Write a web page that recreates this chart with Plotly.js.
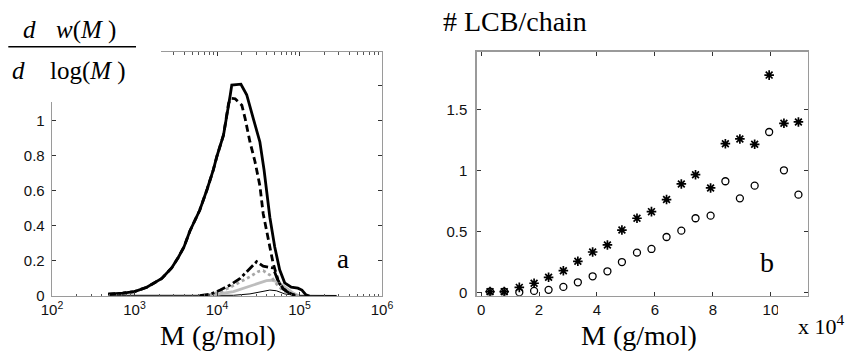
<!DOCTYPE html>
<html>
<head>
<meta charset="utf-8">
<script src="https://cdn.plot.ly/plotly-3.0.1.min.js"></script>
<style>
  html, body { margin: 0; padding: 0; background: #fff; }
  #chart { width: 849px; height: 352px; }
</style>
</head>
<body>
<div id="chart"></div>
<script>
// ---- Panel a: molecular weight distributions, dw(M)/dlog(M) ----
const totalM = [480, 720, 1000, 1410, 2140, 2820, 3390, 3980, 4680, 6170, 7590, 9020, 10000, 12000,
                14500, 15100, 19500, 22900, 27500, 33100, 37200, 40700, 43700, 50100, 57500, 66100,
                79400, 95500, 107000, 120000, 132000];
const totalW = [0.011, 0.016, 0.025, 0.05, 0.10, 0.16, 0.22, 0.28, 0.37, 0.49, 0.61, 0.72, 0.80, 0.92,
                1.15, 1.205, 1.21, 1.15, 1.015, 0.88, 0.72, 0.55, 0.45, 0.28, 0.15, 0.075,
                0.05, 0.045, 0.034, 0.006, 0];

const dashM = [480, 720, 1000, 1410, 2140, 2820, 3390, 3980, 4680, 6170, 7590, 9020, 10000, 12000,
               13800, 14800, 16600, 20000, 21900, 25100, 28800, 33100, 36300, 41700, 47900, 55000,
               63100, 76700, 91200];
const dashW = [0.011, 0.016, 0.025, 0.05, 0.10, 0.16, 0.22, 0.28, 0.37, 0.49, 0.61, 0.72, 0.80, 0.92,
               1.10, 1.13, 1.127, 1.09, 1.015, 0.88, 0.77, 0.63, 0.47, 0.32, 0.187, 0.09,
               0.044, 0.015, 0];

const dashDotM = [6170, 8320, 10960, 14450, 19050, 23990, 30200, 36300, 47900, 55000, 63100, 77600, 95500];
const dashDotW = [0.002, 0.01, 0.034, 0.063, 0.10, 0.149, 0.196, 0.17, 0.16, 0.085, 0.04, 0.012, 0];

const dotGrayM = [7940, 10960, 14450, 19050, 25100, 31600, 36300, 43700, 52500, 63100, 79400, 100000];
const dotGrayW = [0.005, 0.025, 0.05, 0.08, 0.11, 0.14, 0.145, 0.12, 0.07, 0.03, 0.01, 0];

const lightGrayM = [7080, 10000, 15850, 22900, 27500, 33100, 39800, 45700, 55000, 69200, 85100, 100000];
const lightGrayW = [0.003, 0.01, 0.025, 0.05, 0.063, 0.078, 0.088, 0.09, 0.08, 0.045, 0.015, 0];

const thinM = [500, 15850, 25100, 35500, 43700, 52500, 66100, 89100, 282000];
const thinW = [0.004, 0.004, 0.012, 0.025, 0.034, 0.03, 0.012, 0.004, 0.003];

const logTickVals = [100, 1000, 10000, 100000, 1000000];
const logTickText = ['10<sup>2</sup>', '10<sup>3</sup>', '10<sup>4</sup>', '10<sup>5</sup>', '10<sup>6</sup>'];

// ---- Panel b: long chain branches per chain vs M ----
const lcbM = [3100, 8000, 13200, 18300, 23300, 28400, 33400, 38500, 43600, 48600, 53800,
              58800, 64000, 69100, 74000, 79200, 84300, 89300, 94400, 99400, 104500, 109500];
const lcbStar = [0.005, 0.005, 0.04, 0.074, 0.123, 0.177, 0.254, 0.33, 0.388, 0.51, 0.607,
                 0.661, 0.76, 0.888, 0.964, 0.855, 1.218, 1.257, 1.213, 1.78, 1.385, 1.396];
const lcbCircle = [0.005, 0.005, 0.0, 0.011, 0.02, 0.044, 0.082, 0.131, 0.172, 0.248, 0.325,
                   0.355, 0.453, 0.505, 0.607, 0.628, 0.91, 0.77, 0.874, 1.314, 1.0, 0.80];

const linTickVals = [0, 20000, 40000, 60000, 80000, 100000];
const linTickText = ['0', '2', '4', '6', '8', '10'];
const lcbTickVals = [0, 0.5, 1, 1.5];

// minor ticks for the log axis: 2..9 in each decade
const minorLog = [];
for (let d = 2; d < 6; d++) {
  for (let k = 2; k <= 9; k++) minorLog.push(k * Math.pow(10, d));
}

const W = 849, H = 352;
const px = v => v / W;
const py = v => (H - v) / H;

const traces = [
  { x: thinM, y: thinW, mode: 'lines', line: { color: '#000', width: 1 }, xaxis: 'x', yaxis: 'y' },
  { x: lightGrayM, y: lightGrayW, mode: 'lines', line: { color: '#bdbdbd', width: 2.8 }, xaxis: 'x', yaxis: 'y' },
  { x: dotGrayM, y: dotGrayW, mode: 'lines', line: { color: '#a8a8a8', width: 2.8, dash: 'dot' }, xaxis: 'x', yaxis: 'y' },
  { x: dashDotM, y: dashDotW, mode: 'lines', line: { color: '#000', width: 2.8, dash: 'dashdot' }, xaxis: 'x', yaxis: 'y' },
  { x: totalM, y: totalW, mode: 'lines', line: { color: '#000', width: 2.8 }, xaxis: 'x', yaxis: 'y' },
  { x: dashM, y: dashW, mode: 'lines', line: { color: '#000', width: 2.8, dash: '7px,4px' }, xaxis: 'x', yaxis: 'y' },
  { x: lcbM, y: lcbCircle, mode: 'markers', xaxis: 'x2', yaxis: 'y2',
    marker: { symbol: 'circle-open', size: 7, color: '#000', line: { width: 1.3, color: '#000' } } },
  { x: lcbM, y: lcbStar, mode: 'markers', xaxis: 'x2', yaxis: 'y2',
    marker: { symbol: 'asterisk-open', size: 8, color: '#000', line: { width: 1.7, color: '#000' } } }
];

const tickFamily = 'Liberation Sans, Arial, sans-serif';
const axisCommon = {
  showline: true, linecolor: '#9a9a9a', linewidth: 1.3, mirror: 'ticks',
  ticks: 'inside', ticklen: 4, tickcolor: '#333', tickwidth: 1,
  showgrid: false, zeroline: false,
  tickfont: { family: tickFamily, size: 15, color: '#111' }
};

const serif = 'Liberation Serif, Times New Roman, serif';

function label(text, x, y, size, anchor) {
  return { text: text, x: px(x), y: py(y), xref: 'paper', yref: 'paper',
           xanchor: anchor || 'center', yanchor: 'middle', showarrow: false,
           font: { family: serif, size: size, color: '#000' } };
}

const layout = {
  width: W, height: H,
  margin: { l: 0, r: 0, t: 0, b: 0 },
  paper_bgcolor: '#fff', plot_bgcolor: '#fff',
  showlegend: false,
  xaxis: Object.assign({}, axisCommon, {
    type: 'log', domain: [px(52), px(382)], range: [2, 6], anchor: 'y',
    tickmode: 'array', tickvals: logTickVals, ticktext: logTickText,
    minor: { ticks: 'inside', ticklen: 2.5, tickcolor: '#555', tickvals: minorLog }
  }),
  yaxis: Object.assign({}, axisCommon, {
    domain: [py(296), py(52)], range: [0, 1.394], anchor: 'x',
    tick0: 0, dtick: 0.2, ticklabelstandoff: 3
  }),
  xaxis2: Object.assign({}, axisCommon, {
    domain: [px(476.7), px(807.7)], range: [-1500, 112700], anchor: 'y2',
    tickmode: 'array', tickvals: linTickVals, ticktext: linTickText
  }),
  yaxis2: Object.assign({}, axisCommon, {
    domain: [py(295.7), py(51.7)], range: [-0.028, 1.972], anchor: 'x2',
    tickmode: 'array', tickvals: lcbTickVals, ticklabelstandoff: 5
  }),
  shapes: [
    // white panel behind the fraction label (hides the top-left corner of panel a's frame)
    { type: 'rect', xref: 'paper', yref: 'paper', x0: 0, x1: px(161), y0: py(102), y1: 1,
      fillcolor: '#fff', line: { width: 0 }, layer: 'above' },
    // fraction bar
    { type: 'line', xref: 'paper', yref: 'paper', x0: px(8.3), x1: px(136), y0: py(46.7), y1: py(46.7),
      line: { color: '#000', width: 1.5 }, layer: 'above' },
    // white patch under the x 10^4 multiplier
    { type: 'rect', xref: 'paper', yref: 'paper', x0: px(778), x1: px(800), y0: py(318), y1: py(297.5),
      fillcolor: '#fff', line: { width: 0 }, layer: 'above' }
  ],
  annotations: [
    label('<i>d</i>', 29, 30, 25),
    label('<i>w</i>(<i>M</i> )', 86, 30, 25),
    label('<i>d</i>', 18.5, 71, 25),
    label('log(<i>M</i> )', 88, 71, 25),
    label('# LCB/chain', 441, 21, 28, 'left'),
    label('M (g/mol)', 217.5, 335, 28),
    label('M (g/mol)', 639, 335, 28),
    label('x 10<sup>4</sup>', 796, 325, 22, 'left'),
    label('a', 343, 259, 27),
    label('b', 767, 262, 28)
  ]
};

Plotly.newPlot('chart', traces, layout, { staticPlot: true, displayModeBar: false });
</script>
</body>
</html>
